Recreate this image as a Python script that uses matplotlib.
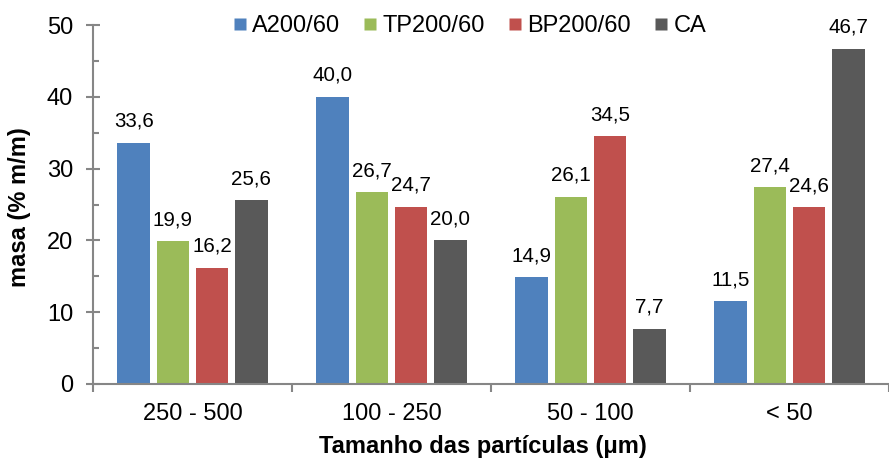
import matplotlib
matplotlib.use("Agg")
import matplotlib.pyplot as plt
from matplotlib.lines import Line2D
import numpy as np

plt.rcParams['font.family'] = ['Liberation Sans', 'DejaVu Sans']

categories = ['250 - 500', '100 - 250', '50 - 100', '< 50']
series = ['A200/60', 'TP200/60', 'BP200/60', 'CA']
a200 = [33.6, 40.0, 14.9, 11.5]
tp200 = [19.9, 26.7, 26.1, 27.4]
bp200 = [16.2, 24.7, 34.5, 24.6]
ca = [25.6, 20.0, 7.7, 46.7]
colors = ['#4F81BD', '#9BBB59', '#C0504D', '#595959']

values = [a200, tp200, bp200, ca]
axis_grey = '#868686'

fig = plt.figure(figsize=(8.89, 4.59), dpi=100)
ax = fig.add_axes([93 / 889, 1 - 384 / 459, 1 - 93 / 889, (384 - 25) / 459])

x = np.arange(len(categories))
step = 0.197
width = 0.164
for i, (vals, col) in enumerate(zip(values, colors)):
    pos = x + (i - 1.5) * step
    ax.bar(pos, vals, width=width, color=col, edgecolor='none', zorder=2)
    for px, v in zip(pos, vals):
        ax.annotate(f"{v:.1f}".replace('.', ','), (px, v), xytext=(0, 11.5),
                    textcoords='offset points', ha='center', va='baseline',
                    fontsize=14.8, clip_on=False)

ax.set_xlim(-0.5, -0.5 + 796 / 201.7)
ax.set_ylim(0, 50)

for side in ['top', 'right']:
    ax.spines[side].set_visible(False)
for side in ['left', 'bottom']:
    ax.spines[side].set_color(axis_grey)
    ax.spines[side].set_linewidth(1.5)

# y ticks
ax.set_yticks(np.arange(0, 51, 10))
ax.set_yticks(np.arange(5, 50, 10), minor=True)
ax.tick_params(axis='y', which='major', direction='inout', length=9.5, width=1.5,
               color=axis_grey, labelsize=17, pad=9.5)
ax.tick_params(axis='y', which='minor', direction='in', length=4.5, width=1.5,
               color=axis_grey)

# x ticks: marks between groups, labels under groups
ax.set_xticks(np.arange(-0.5, 4, 1.0))
ax.set_xticklabels([])
ax.set_xticks(x, minor=True)
ax.set_xticklabels(categories, minor=True)
ax.tick_params(axis='x', which='major', direction='out', length=5.5, width=1.5,
               color=axis_grey)
ax.tick_params(axis='x', which='minor', length=0, labelsize=17, pad=14)

fig.text(483 / 889, 1 - 447 / 459, 'Tamanho das partículas (μm)', ha='center',
         va='center', fontsize=17, fontweight='bold')
fig.text(20 / 889, 1 - 207.5 / 459, 'masa (% m/m)', ha='center', va='center',
         rotation=90, fontsize=17, fontweight='bold')

handles = [Line2D([], [], marker='s', linestyle='none', markersize=8.6,
                  markerfacecolor=c, markeredgecolor='none') for c in colors]
fig.legend(handles, series, loc='center', bbox_to_anchor=(470 / 889, 1 - 26 / 459),
           ncol=4, frameon=False, fontsize=17, handlelength=0.5,
           handletextpad=0.25, columnspacing=1.05, borderaxespad=0)

fig.savefig('out.png', dpi=100)
